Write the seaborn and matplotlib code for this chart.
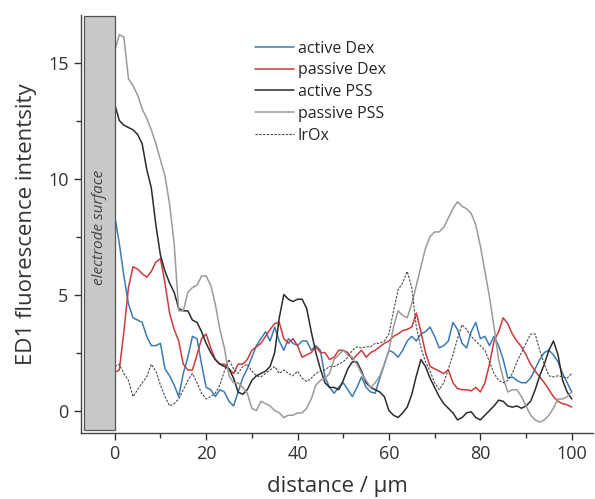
"""ED1 fluorescence intensity profiles vs. distance from the electrode surface."""

import matplotlib

matplotlib.use("Agg")
import matplotlib.pyplot as plt
import pandas as pd
import seaborn as sns
from matplotlib.patches import Rectangle
from matplotlib.ticker import MultipleLocator

# distance from electrode, 1 um steps
distance = list(range(0, 101))

active_dex = [
    8.4, 7.2, 5.8, 4.6, 4.0, 3.9, 3.8, 3.2, 2.8, 2.8, 2.9, 1.8, 1.5, 1.1, 0.6, 1.6, 2.3, 3.2, 3.1, 2.0,
    1.0, 0.9, 0.6, 0.9, 0.8, 0.4, 0.2, 0.8, 1.4, 1.8, 2.3, 2.8, 3.1, 3.4, 3.0, 3.6, 3.0, 2.6, 3.1, 2.9,
    2.8, 3.0, 3.0, 2.6, 2.8, 2.6, 1.45, 1.0, 0.75, 1.0, 1.2, 0.9, 0.6, 1.0, 1.45, 1.0, 0.8, 0.75, 1.4, 2.0,
    2.6, 2.5, 2.3, 2.6, 3.0, 3.2, 3.0, 3.3, 3.4, 3.6, 3.2, 2.7, 2.8, 3.0, 3.8, 3.5, 2.9, 2.7, 3.4, 3.8,
    3.1, 3.2, 2.8, 3.2, 2.8, 2.2, 1.4, 1.45, 1.3, 1.2, 1.2, 1.4, 1.8, 2.2, 2.5, 2.6, 2.4, 2.1, 1.6, 1.2,
    0.8,
]

passive_dex = [
    1.65, 1.75, 3.4, 5.3, 6.2, 6.1, 5.9, 5.75, 6.0, 6.4, 6.55, 5.5, 4.2, 3.5, 3.0, 2.0, 1.75, 1.75, 2.4, 3.1,
    3.3, 2.7, 2.2, 2.0, 2.0, 1.8, 1.6, 2.0, 2.0, 2.2, 2.6, 2.75, 2.9, 3.2, 3.5, 3.75, 3.8, 3.1, 2.9, 3.1,
    2.8, 2.3, 2.4, 2.5, 2.75, 2.5, 2.5, 2.2, 2.3, 2.6, 2.6, 2.5, 2.2, 2.4, 2.6, 2.3, 2.5, 2.6, 2.75, 2.9,
    3.0, 3.2, 3.3, 3.45, 3.5, 3.6, 4.2, 3.4, 2.5, 1.9, 1.8, 1.7, 1.6, 1.75, 1.2, 0.95, 0.9, 0.9, 0.85, 1.0,
    0.8, 1.2, 2.0, 3.0, 3.4, 4.0, 3.75, 3.3, 3.0, 2.75, 2.4, 2.0, 1.7, 1.45, 1.2, 0.9, 0.6, 0.4, 0.3, 0.25,
    0.15,
]

active_pss = [
    13.2, 12.5, 12.3, 12.2, 12.1, 11.9, 11.5, 10.4, 9.6, 8.0, 6.7, 6.0, 5.5, 5.1, 4.4, 4.3, 4.3, 3.9, 3.8, 3.4,
    2.9, 2.5, 2.2, 2.0, 1.9, 1.8, 1.4, 0.8, 0.7, 0.9, 1.3, 1.5, 1.6, 1.7, 1.9, 2.5, 4.0, 5.0, 4.8, 4.7,
    4.8, 4.8, 4.4, 3.4, 2.5, 1.8, 1.2, 1.0, 1.0, 0.9, 1.3, 1.8, 2.1, 2.1, 1.7, 1.2, 1.0, 0.9, 0.8, 0.6,
    0.0, -0.2, -0.3, -0.1, 0.15, 0.7, 1.5, 2.2, 1.9, 1.4, 1.0, 0.6, 0.3, 0.1, -0.1, -0.4, -0.3, -0.1, -0.05, -0.3,
    -0.4, -0.2, 0.0, 0.2, 0.45, 0.4, 0.2, 0.15, 0.2, 0.1, 0.2, 0.4, 0.9, 1.5, 2.0, 2.6, 3.0, 2.4, 1.3, 0.8,
    0.5,
]

passive_pss = [
    15.5, 16.2, 16.1, 14.3, 14.0, 13.6, 13.0, 12.6, 12.1, 11.5, 10.8, 10.1, 8.9, 7.2, 4.3, 4.3, 5.1, 5.3, 5.4, 5.8,
    5.8, 5.4, 4.6, 3.5, 2.7, 1.5, 1.2, 1.2, 1.0, 0.75, 0.1, 0.0, 0.4, 0.3, 0.2, 0.0, -0.1, -0.3, -0.2, -0.2,
    -0.1, -0.1, 0.1, 0.5, 1.1, 1.3, 1.4, 1.6, 2.2, 2.4, 2.6, 2.4, 2.3, 2.0, 1.6, 1.3, 1.0, 1.2, 1.5, 2.0,
    2.6, 3.6, 4.3, 4.1, 4.0, 4.6, 5.4, 6.2, 7.0, 7.5, 7.7, 7.7, 7.9, 8.3, 8.7, 9.0, 8.8, 8.7, 8.5, 8.0,
    7.1, 6.0, 4.9, 3.6, 2.2, 1.4, 0.8, 0.9, 0.9, 0.6, 0.2, -0.2, -0.4, -0.5, -0.4, -0.2, 0.1, 0.5, 0.5, 0.6,
    0.8,
]

irox = [
    1.9, 2.0, 1.6, 1.3, 0.6, 0.9, 1.2, 1.45, 2.0, 1.7, 1.1, 0.6, 0.2, 0.3, 0.5, 0.9, 1.3, 1.6, 1.2, 0.75,
    0.5, 0.6, 0.75, 1.1, 1.7, 2.2, 1.8, 1.6, 1.9, 2.0, 1.7, 1.5, 1.45, 1.6, 1.75, 1.9, 1.6, 1.75, 1.6, 1.5,
    1.7, 1.4, 1.25, 1.4, 1.6, 1.7, 1.75, 1.9, 1.9, 2.0, 2.1, 2.3, 2.6, 2.75, 2.7, 2.75, 2.75, 2.9, 2.9, 3.0,
    3.3, 4.3, 5.2, 5.5, 6.0, 5.3, 3.6, 2.7, 2.1, 1.7, 1.2, 0.9, 1.2, 1.8, 2.4, 3.1, 3.7, 3.5, 3.2, 3.0,
    2.8, 2.6, 2.1, 1.6, 1.3, 1.2, 1.3, 1.6, 2.1, 2.5, 2.9, 3.3, 3.3, 2.6, 2.0, 1.5, 1.45, 1.5, 1.45, 1.4,
    1.6,
]

series_names = ["active Dex", "passive Dex", "active PSS", "passive PSS", "IrOx"]
series_values = [active_dex, passive_dex, active_pss, passive_pss, irox]
series_colors = ["#3b7bb4", "#d0393a", "#2b2b2b", "#9a9a9a", "#4a4a4a"]
series_styles = ["-", "-", "-", "-", (0, (2.2, 1.2))]
series_widths = [1.1, 1.1, 1.1, 1.1, 0.8]

sns.set_style("ticks")
plt.rcParams["font.family"] = ["Open Sans", "DejaVu Sans"]
plt.rcParams["axes.linewidth"] = 1.0

fig = plt.figure(figsize=(5.95, 4.99), dpi=100)
ax = fig.add_axes([0.136, 0.133, 0.861, 0.837])

for name, vals, color, ls, lw in zip(series_names, series_values, series_colors, series_styles, series_widths):
    df = pd.DataFrame({"distance": distance, "intensity": vals})
    sns.lineplot(data=df, x="distance", y="intensity", ax=ax, color=color, linewidth=lw, label=name)
    ax.lines[-1].set_linestyle(ls)

# electrode surface block
ax.add_patch(Rectangle((-6.7, -0.85), 6.7, 17.85, facecolor="#c8c8c8", edgecolor="#555555", linewidth=0.9, zorder=3))
ax.text(-3.4, 7.9, "electrode surface", rotation=90, ha="center", va="center", style="italic",
        fontsize=11, color="#444444", zorder=4)

ax.set_xlim(-7.4, 104.7)
ax.set_ylim(-0.95, 17.05)
ax.xaxis.set_major_locator(MultipleLocator(20))
ax.xaxis.set_minor_locator(MultipleLocator(10))
ax.yaxis.set_major_locator(MultipleLocator(5))
ax.yaxis.set_minor_locator(MultipleLocator(2.5))
ax.tick_params(which="major", direction="out", length=5, width=1.0, labelsize=13, colors="#333333", pad=4)
ax.tick_params(which="minor", direction="out", length=3.5, width=1.0, colors="#333333")
sns.despine(ax=ax)
for sp in ("left", "bottom"):
    ax.spines[sp].set_color("#444444")

ax.set_xlabel("distance / µm", fontsize=16, color="#333333", labelpad=9)
ax.set_ylabel("ED1 fluorescence intentsity", fontsize=16, color="#333333", labelpad=8)

leg = ax.legend(loc="upper left", bbox_to_anchor=(0.328, 0.954), frameon=False, fontsize=11.5,
                handlelength=2.4, handletextpad=0.25, labelspacing=0.36, borderaxespad=0)
for line, ls, lw in zip(leg.get_lines(), series_styles, series_widths):
    line.set_linestyle(ls)
    line.set_linewidth(lw)

fig.savefig("out.png", dpi=100)
